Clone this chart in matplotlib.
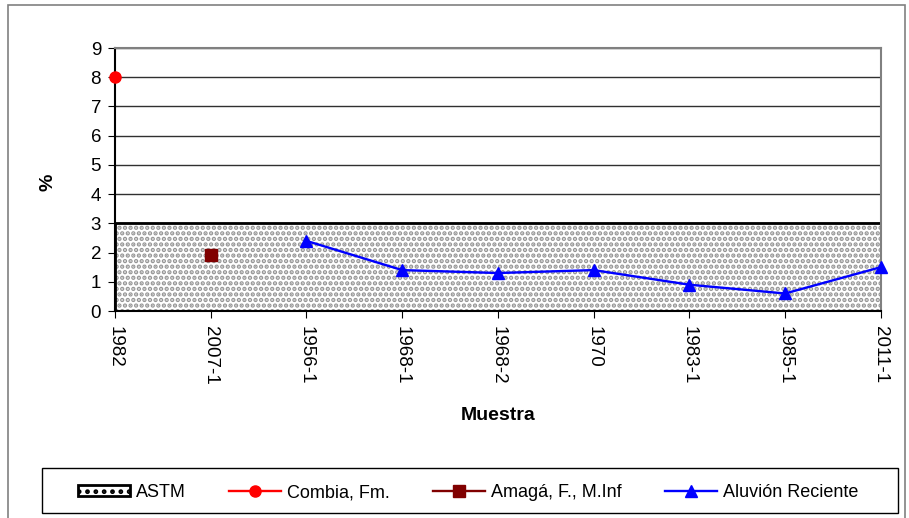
import matplotlib.pyplot as plt
import numpy as np
from matplotlib.patches import Rectangle

# Data
muestras = ['1982', '2007-1', '1956-1', '1968-1', '1968-2', '1970', '1983-1', '1985-1', '2011-1']
astm = [3, 3, 3, 3, 3, 3, 3, 3, 3]
combia = [8.0, None, None, None, None, None, None, None, None]
amaga = [None, 1.9, None, None, None, None, None, None, None]
aluvion = [None, None, 2.4, 1.4, 1.3, 1.4, 0.9, 0.6, 1.5]

plt.rcParams['font.family'] = ['Liberation Sans', 'DejaVu Sans']
plt.rcParams['hatch.linewidth'] = 2.2


def to_arr(vals):
    return np.array([np.nan if v is None else v for v in vals], dtype=float)


fig = plt.figure(figsize=(9.09, 5.18), dpi=100)
ax = fig.add_axes([0.1265, 0.3996, 0.969 - 0.1265, 0.9073 - 0.3996])

x = np.arange(len(muestras))

ax.grid(True, axis='y', color='#303030', linewidth=1.0, zorder=0)
ax.set_axisbelow(True)

# ASTM band: grey dotted texture + black outline
ax.fill_between(x, 0, astm, facecolor='white', edgecolor='#959595',
                hatch='...', linewidth=0, zorder=1)
ax.fill_between(x, 0, astm, facecolor='none', edgecolor='black',
                linewidth=2.0, zorder=1.5)
astm_handle = Rectangle((0, 0), 1, 1, facecolor='white', edgecolor='black',
                        hatch='..', linewidth=2.0)

l1, = ax.plot(x, to_arr(combia), color='red', marker='o', markersize=8,
              linewidth=1.7, zorder=3, clip_on=False)
l2, = ax.plot(x, to_arr(amaga), color='#800000', marker='s', markersize=8.5,
              linewidth=1.7, zorder=3, clip_on=False)
l3, = ax.plot(x, to_arr(aluvion), color='blue', marker='^', markersize=8,
              linewidth=1.7, zorder=3, clip_on=False)

ax.set_xlim(0, len(muestras) - 1)
ax.set_ylim(0, 9)
ax.set_yticks(range(10))
ax.set_xticks(x)
ax.set_xticklabels(muestras, rotation=270, fontsize=13.5)
ax.tick_params(axis='y', labelsize=13.5, length=5, direction='out', color='black', pad=5)
ax.tick_params(axis='x', length=5, direction='out', color='black', pad=6)

ax.spines['left'].set_color('black')
ax.spines['left'].set_linewidth(1.5)
ax.spines['bottom'].set_color('black')
ax.spines['bottom'].set_linewidth(1.5)
ax.spines['top'].set_color('#808080')
ax.spines['top'].set_linewidth(1.5)
ax.spines['right'].set_color('#808080')
ax.spines['right'].set_linewidth(1.5)

ax.set_xlabel('Muestra', fontsize=14, fontweight='bold', va='top')
ax.xaxis.set_label_coords(0.5, -0.365)
ax.set_ylabel('%', fontsize=14, fontweight='bold', va='center')
ax.yaxis.set_label_coords(-0.087, 0.49)

# outer chart frame
fig.patches.append(Rectangle((8 / 909, -0.01), 897 / 909, 1 - 5 / 518 + 0.01,
                             transform=fig.transFigure, fill=False,
                             edgecolor='#808080', linewidth=1.2))
# legend box
fig.patches.append(Rectangle((42 / 909, 5 / 518), 856 / 909, 45 / 518,
                             transform=fig.transFigure, fill=False,
                             edgecolor='black', linewidth=1.0))

leg = fig.legend([astm_handle, l1, l2, l3],
                 ['ASTM', 'Combia, Fm.', 'Amagá, F., M.Inf', 'Aluvión Reciente'],
                 loc='center', bbox_to_anchor=(78 / 909, 8 / 518, 780 / 909, 35 / 518),
                 ncol=4, mode='expand', fontsize=13, frameon=False,
                 handlelength=2.9, handletextpad=0.3, handleheight=0.5,
                 borderaxespad=0, borderpad=0)

fig.savefig('out.png', dpi=100)
